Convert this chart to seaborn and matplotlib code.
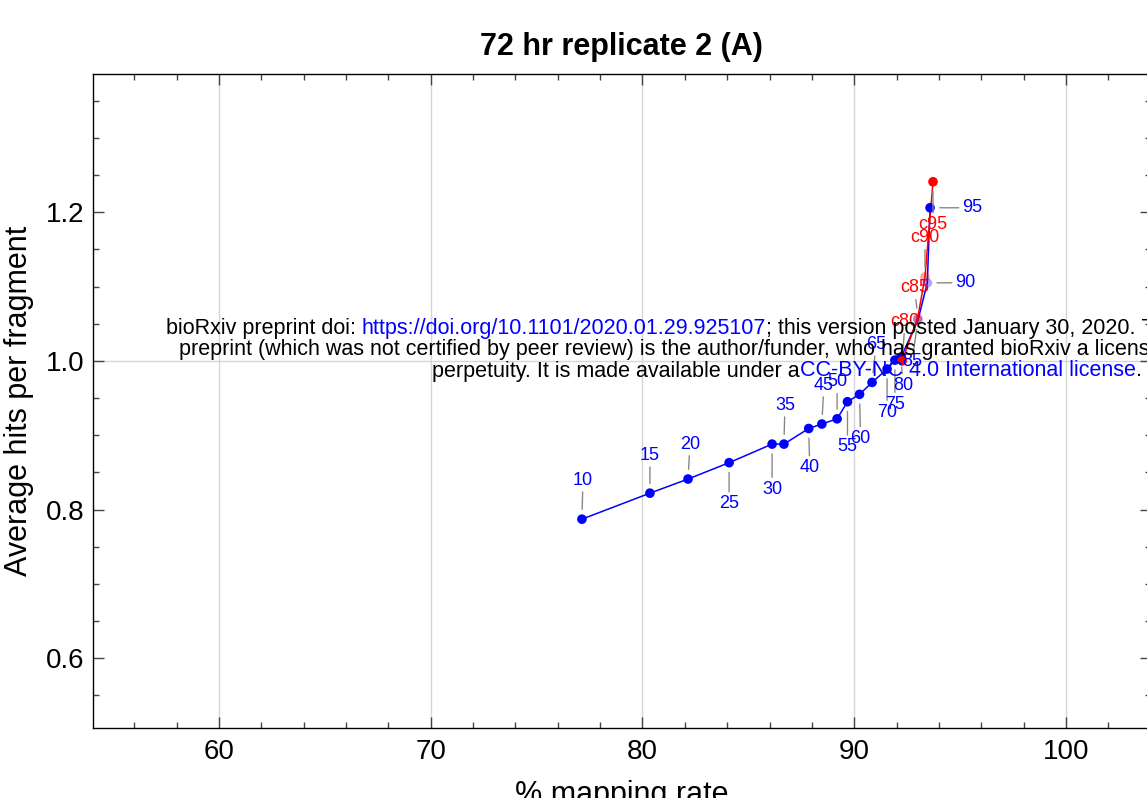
import matplotlib
matplotlib.use("Agg")
import matplotlib.pyplot as plt
import numpy as np
import pandas as pd
import seaborn as sns
from matplotlib.ticker import MultipleLocator, FormatStrFormatter

# Sample-percentage series
pct_labels = ["10", "15", "20", "25", "30", "35", "40", "45", "50",
              "55", "60", "65", "70", "75", "80", "85", "90", "95"]
map_rate = [77.14, 80.35, 82.15, 84.09, 86.12, 86.68, 87.85, 88.47, 89.19,
            89.68, 90.25, 90.84, 91.55, 91.92, 92.21, 93.01, 93.45, 93.58]
avg_hits = [0.787, 0.822, 0.841, 0.863, 0.888, 0.888, 0.909, 0.915, 0.922,
            0.945, 0.955, 0.971, 0.989, 1.001, 1.005, 1.055, 1.105, 1.206]

# Control series
ctrl_labels = ["c80", "c85", "c90", "c95"]
ctrl_rate = [92.26, 93.00, 93.34, 93.72]
ctrl_hits = [1.000, 1.058, 1.113, 1.241]

title = "72 hr replicate 2 (A)"
x_label = "% mapping rate"
y_label = "Average hits per fragment"

notice_lines = [
    [("bioRxiv preprint doi: ", "black"),
     ("https://doi.org/10.1101/2020.01.29.925107", "blue"),
     ("; this version posted January 30, 2020. The copyright holder for this", "black")],
    [("preprint (which was not certified by peer review) is the author/funder, "
      "who has granted bioRxiv a license to display the preprint in", "black")],
    [("perpetuity. It is made available under a", "black"),
     ("CC-BY-NC 4.0 International license", "blue"),
     (".", "black")],
]

sns.set_theme(style="ticks")
plt.rcParams["font.family"] = ["Liberation Sans", "DejaVu Sans"]
plt.rcParams.update({"text.color": "black", "axes.labelcolor": "black",
                     "xtick.color": "#444444", "ytick.color": "#444444",
                     "xtick.labelcolor": "black", "ytick.labelcolor": "black"})

W, H = 1147, 798
fig = plt.figure(figsize=(W / 100, H / 100), dpi=100)
ax = fig.add_axes([93 / W, 70 / H, (1150.7 - 93) / W, 654 / H])

pct = pd.DataFrame({"rate": map_rate, "hits": avg_hits, "label": pct_labels})
ctrl = pd.DataFrame({"rate": ctrl_rate, "hits": ctrl_hits, "label": ctrl_labels})

# grid: vertical at major x ticks, one horizontal reference at 1.0
ax.set_axisbelow(True)
ax.xaxis.grid(True, which="major", color="#d6d6d6", lw=1)
ax.axhline(1.0, color="#d6d6d6", lw=1, zorder=0)

sns.lineplot(data=pct, x="rate", y="hits", sort=False, estimator=None,
             color="blue", lw=1.1, ax=ax, zorder=2)
sns.lineplot(data=ctrl, x="rate", y="hits", sort=False, estimator=None,
             color="red", lw=1.1, ax=ax, zorder=2)

faded = {"85", "90", "c85", "c90"}
for df, col in ((pct, "blue"), (ctrl, "red")):
    solid = df[~df["label"].isin(faded)]
    light = df[df["label"].isin(faded)]
    sns.scatterplot(data=solid, x="rate", y="hits", color=col, s=48,
                    edgecolor="none", ax=ax, zorder=4)
    sns.scatterplot(data=light, x="rate", y="hits", color=col, s=48,
                    alpha=0.35, edgecolor="none", ax=ax, zorder=4)

# callout offsets in pixels (dx, dy) for each label
pct_offsets = [(1, 39), (0, 38), (2, 35), (0, -41), (0, -45), (1, 39),
               (1, -39), (2, 39), (0, 37), (0, -45), (1, -44), (4, 38),
               (0, -43), (0, -44), (2, -28), (-6, -42), (38, 0), (42, 0)]
ctrl_offsets = [(3, 39), (-3, 30), (0, 39), (0, -43)]

def callouts(df, offsets, color):
    for (x, y, lab), (dx, dy) in zip(df[["rate", "hits", "label"]].itertuples(index=False), offsets):
        ax.annotate(lab, xy=(x, y), xytext=(dx, dy), textcoords="offset pixels",
                    ha="center", va="center", fontsize=13, color=color,
                    annotation_clip=False, zorder=5,
                    arrowprops=dict(arrowstyle="-", color="#888888", lw=1,
                                    shrinkA=0, shrinkB=7))

callouts(pct, pct_offsets, "blue")
callouts(ctrl, ctrl_offsets, "red")

ax.set_xlim(54.05, 104.0)
ax.set_ylim(0.506, 1.386)
ax.xaxis.set_major_locator(MultipleLocator(10))
ax.xaxis.set_minor_locator(MultipleLocator(2))
ax.yaxis.set_major_locator(MultipleLocator(0.2))
ax.yaxis.set_minor_locator(MultipleLocator(0.05))
ax.yaxis.set_major_formatter(FormatStrFormatter("%.1f"))
ax.tick_params(which="both", direction="in", top=True, right=True, width=1)
ax.tick_params(which="major", length=8, labelsize=20)
ax.tick_params(axis="x", which="major", pad=8)
ax.tick_params(axis="y", which="major", pad=6)
ax.tick_params(which="minor", length=4)
for sp in ax.spines.values():
    sp.set_color("black")
    sp.set_linewidth(1)

ax.set_title(title, fontsize=22, fontweight="bold", pad=14, color="black")
ax.set_xlabel(x_label, fontsize=22, labelpad=11)
ax.set_ylabel(y_label, fontsize=22, labelpad=9)

# notice text with coloured link segments, each line centred
renderer = fig.canvas.get_renderer()
fs = 15.5

def text_width(s):
    t = fig.text(0, 0, s.replace(" ", "\u00a0"), fontsize=fs)
    w = t.get_window_extent(renderer).width
    t.remove()
    return w

def seg_width(s):
    # width including trailing spaces, measured between two bars
    return text_width("|" + s + "|") - text_width("||")

cx = 787
for line, ypx in zip(notice_lines, (329, 350, 371)):
    widths = [seg_width(s) for s, _ in line]
    x = cx - sum(widths) / 2
    for (s, col), w in zip(line, widths):
        fig.text(x / W, 1 - ypx / H, s.replace(" ", "\u00a0"), fontsize=fs,
                 color=col, ha="left", va="center", zorder=6)
        x += w

fig.savefig("out.png", dpi=100)
